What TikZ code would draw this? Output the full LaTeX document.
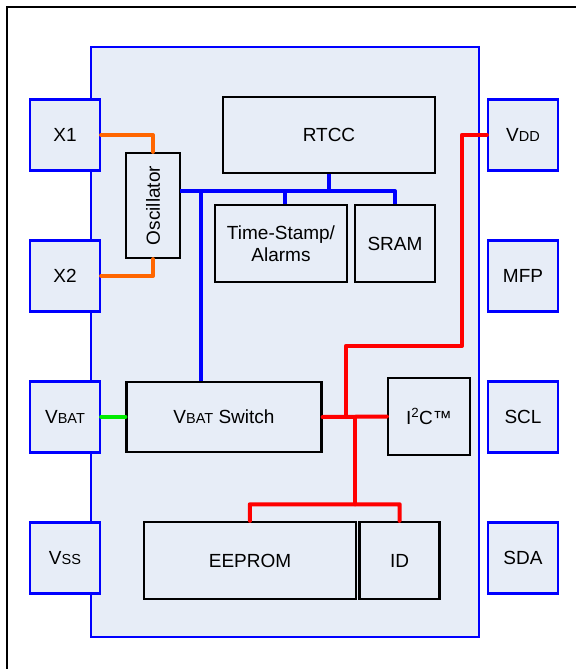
\documentclass[tikz,border=0pt]{standalone}
\usepackage{fontspec}
\setmainfont{Liberation Sans}
\newcommand{\smc}[1]{{\fontsize{14.5}{16}\selectfont #1}}
\definecolor{chipfill}{RGB}{231,237,247}
\definecolor{pinblue}{RGB}{0,0,255}
\definecolor{wireorange}{RGB}{255,102,0}
\definecolor{wiregreen}{RGB}{0,235,0}
\definecolor{wirered}{RGB}{255,0,0}
\begin{document}
\begin{tikzpicture}[x=1pt,y=-1pt,
  every node/.style={font=\fontsize{19}{22.5}\selectfont, inner sep=0pt},
  chipbox/.style={draw=pinblue, line width=2.2pt, fill=chipfill, rectangle},
  pinbox/.style={draw=pinblue, line width=2.2pt, fill=chipfill, rectangle, minimum width=70pt, minimum height=71pt},
  blockbox/.style={draw=black, line width=2.2pt, fill=chipfill, rectangle, align=center},
  wire/.style={line width=4pt, line cap=round, line join=round},
  owire/.style={wire, draw=wireorange},
  gwire/.style={wire, draw=wiregreen},
  bwire/.style={wire, draw=pinblue, line cap=butt},
  rwire/.style={wire, draw=wirered}]
\useasboundingbox (0,0) rectangle (576,669);
% outer frame (partly visible)
\draw[line width=2.2pt] (6.7,669) -- (6.7,6.7) -- (576,6.7);
% chip body
\node[chipbox, minimum width=388pt, minimum height=590pt] (chip) at (285,342) {};
% pins
\node[pinbox] (x1) at (65,135) {X1};
\node[pinbox] (x2) at (65,276) {X2};
\node[pinbox] (vbat) at (65,417) {V\smc{BAT}};
\node[pinbox] (vss) at (65,558) {V\smc{SS}};
\node[pinbox] (vdd) at (523,135) {V\smc{DD}};
\node[pinbox] (mfp) at (523,276) {MFP};
\node[pinbox] (scl) at (523,417) {SCL};
\node[pinbox] (sda) at (523,558) {SDA};
% blocks
\node[blockbox, minimum width=212pt, minimum height=76pt] (rtcc) at (329,135) {RTCC};
\node[blockbox, minimum width=54pt, minimum height=105pt] (osc) at (153,205.5) {};
\node[rotate=90] (osctext) at (osc.center) {Oscillator};
\node[blockbox, minimum width=132pt, minimum height=77pt] (ts) at (281,243.5) {Time-Stamp/\\Alarms};
\node[blockbox, minimum width=80pt, minimum height=77pt] (sram) at (395,243.5) {SRAM};
\node[blockbox, minimum width=195pt, minimum height=70pt] (vsw) at (224,417) {V\smc{BAT} Switch};
\node[blockbox, minimum width=82pt, minimum height=77pt] (i2c) at (429,416.5) {I\textsuperscript{2}C™};
\node[blockbox, minimum width=212pt, minimum height=77pt] (eeprom) at (250,560.5) {EEPROM};
\node[blockbox, minimum width=80pt, minimum height=77pt] (id) at (399.5,560.5) {ID};
% bus coordinates
\coordinate (busL) at (180,191);
\coordinate (busR) at (395,191);
\coordinate (busTS) at (284.7,191);
\coordinate (busV) at (200.6,191);
% orange wires
\draw[owire] (x1.east) -| (osc.north);
\draw[owire] (x2.east) -| (osc.south);
% green wire
\draw[gwire] (vbat.east) -- (vsw.west);
% blue bus
\draw[bwire] (busL) -- (busR) -- (sram.north);
\draw[bwire] (rtcc.south) -- (rtcc.south |- busL);
\draw[bwire] (busTS) -- (busTS |- ts.north);
\draw[bwire] (busV) -- (busV |- vsw.north);
% red wires
\coordinate (r1) at (461.8,346);
\coordinate (r2) at (345.7,346);
\coordinate (r3) at (355.3,504.3);
\coordinate (r4) at (249.8,504.3);
\coordinate (r5) at (399.7,504.3);
\draw[rwire] (vdd.west) -| (r1) -- (r2) -- (r2 |- vsw.east);
\draw[rwire] (vsw.east) -- (i2c.west);
\draw[rwire] (r3 |- vsw.east) -- (r3);
\draw[rwire] (eeprom.north) -- (r4) -- (r5) -- (id.north);
\end{tikzpicture}
\end{document}
